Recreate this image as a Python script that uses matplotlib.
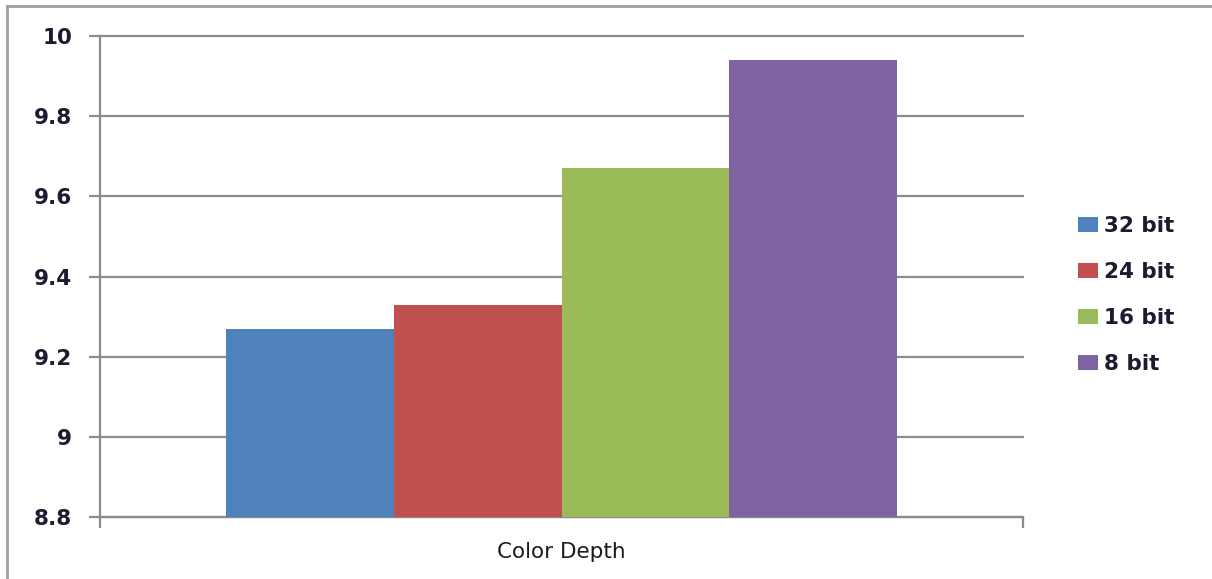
import matplotlib
matplotlib.use("Agg")
import matplotlib.pyplot as plt
from matplotlib.lines import Line2D
from matplotlib.patches import Patch

categories = ["Color Depth"]
series_names = ["32 bit", "24 bit", "16 bit", "8 bit"]
series_values = [9.27, 9.33, 9.67, 9.94]
series_colors = ["#4f81bd", "#c0504d", "#9bbb59", "#8064a2"]
y_ticks = [8.8, 9.0, 9.2, 9.4, 9.6, 9.8, 10.0]
y_tick_labels = ["8.8", "9", "9.2", "9.4", "9.6", "9.8", "10"]

W, H = 1212, 579
fig = plt.figure(figsize=(W / 100, H / 100), dpi=100)
ax = fig.add_axes([100 / W, 1 - 517 / H, (1023 - 100) / W, (517 - 36) / H])

grid_color = "#8c8c8c"
text_color = "#1c1c30"

group_w = 0.726
bw = group_w / len(series_values)
for i, (name, v, c) in enumerate(zip(series_names, series_values, series_colors)):
    x = (i - (len(series_values) - 1) / 2) * bw
    ax.bar(x, v - 8.8, bottom=8.8, width=bw, color=c, label=name, zorder=3, linewidth=0)

ax.set_xlim(-0.5, 0.5)
ax.set_ylim(8.8, 10.0)
ax.set_yticks(y_ticks)
ax.set_yticklabels(y_tick_labels, fontsize=15.5, fontweight="bold", color=text_color,
                   family="DejaVu Sans")
ax.yaxis.grid(True, color=grid_color, linewidth=1.6, zorder=0)
for gl in ax.yaxis.get_gridlines():
    gl.set_clip_on(False)
ax.tick_params(axis="y", direction="out", length=8, width=1.6, color=grid_color, pad=12)

ax.set_xticks([-0.5, 0.5])
ax.set_xticklabels(["", ""])
ax.tick_params(axis="x", direction="out", length=8, width=1.6, color=grid_color)
ax.text(0, -0.052, categories[0], transform=ax.get_xaxis_transform(), ha="center", va="top",
        fontsize=15.5, family="DejaVu Sans", color="#1c1c1c")

for s in ["top", "right"]:
    ax.spines[s].set_visible(False)
for s in ["left", "bottom"]:
    ax.spines[s].set_color(grid_color)
    ax.spines[s].set_linewidth(1.6)

handles = [Patch(facecolor=c, edgecolor="none") for c in series_colors]
fig.legend(handles, series_names, loc="center left",
           bbox_to_anchor=(1078 / W, 1 - 295 / H), frameon=False,
           borderpad=0, borderaxespad=0, handlelength=0.92, handleheight=0.7,
           handletextpad=0.3, labelspacing=1.2,
           prop={"family": "DejaVu Sans", "weight": "bold", "size": 15.5},
           labelcolor=text_color)

# chart area border (top and left visible)
fig.add_artist(Line2D([7 / W, 1.0], [1 - 6 / H, 1 - 6 / H], transform=fig.transFigure,
                      color="#a0a0a0", linewidth=2))
fig.add_artist(Line2D([7 / W, 7 / W], [0, 1 - 6 / H], transform=fig.transFigure,
                      color="#a0a0a0", linewidth=2))

fig.savefig("out.png", dpi=100)
